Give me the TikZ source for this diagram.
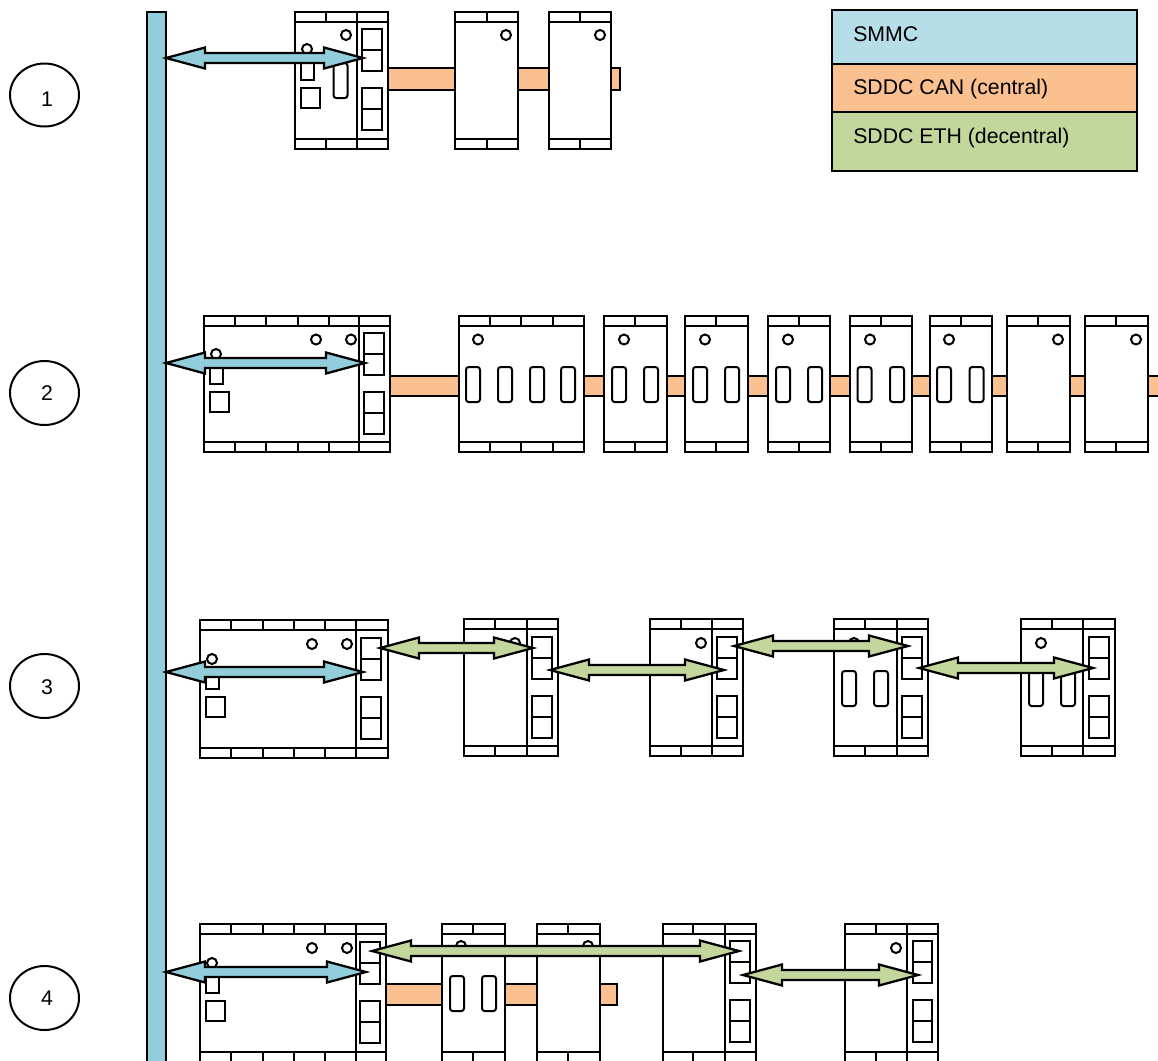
\documentclass[tikz,border=0pt]{standalone}
\usepackage{fontspec}
\setmainfont{Liberation Sans}
\usetikzlibrary{calc}
\definecolor{busblue}{HTML}{92CDDC}
\definecolor{legblue}{HTML}{B7DDE8}
\definecolor{canorange}{HTML}{FAC08F}
\definecolor{ethgreen}{HTML}{C3D69B}
\tikzset{
  part/.style={draw=black,line width=1.5pt,fill=white},
  strip/.style={draw=black,line width=1.5pt,fill=canorange},
  legendbox/.style={draw=black,line width=1.5pt},
  legendtext/.style={anchor=base west,inner sep=0pt,font=\fontsize{15.95}{18}\selectfont},
  rownum/.style={inner sep=0pt,font=\fontsize{15.95}{18}\selectfont},
  flow/.style={draw=black,line width=1.7pt,line join=miter,miter limit=10},
}
% x0 x1 top bottom ticklist
\newcommand{\mymodule}[5]{%
  \draw[part] (#1,#3) rectangle (#2,#4);
  \draw[part] (#1,#3+10) -- (#2,#3+10) (#1,#4-10) -- (#2,#4-10);
  \foreach \t in {#5} {\draw[part] (\t,#3) -- (\t,#3+10) (\t,#4-10) -- (\t,#4);}
}
\newcommand{\mydivider}[3]{\draw[part] (#1,#2+10) -- (#1,#3-10);}
% x y of upper left corner of the two double boxes
\newcommand{\myports}[2]{%
  \draw[part] (#1,#2) rectangle (#1+19.5,#2+42) (#1,#2+21) -- (#1+19.5,#2+21);
  \draw[part] (#1,#2+59) rectangle (#1+19.5,#2+101) (#1,#2+80) -- (#1+19.5,#2+80);
}
\newcommand{\myled}[2]{\draw[part] (#1,#2) circle[radius=5];}
\newcommand{\myslot}[3]{\draw[part,rounded corners=2pt] (#1,#2) rectangle (#1+14,#3);}
% name x1 x2 y colour
\newcommand{\myflow}[5]{%
  \coordinate (#1L) at (#2+2,#4);
  \coordinate (#1R) at (#3+1,#4);
  \draw[flow,fill=#5] (#1L) -- ($(#1L)+(39,-10.5)$) -- ($(#1L)+(39,-5)$) -- ($(#1R)+(-39,-5)$)
    -- ($(#1R)+(-39,-10.5)$) -- (#1R) -- ($(#1R)+(-39,10.5)$) -- ($(#1R)+(-39,5)$)
    -- ($(#1L)+(39,5)$) -- ($(#1L)+(39,10.5)$) -- cycle;
}
\begin{document}
\begin{tikzpicture}[x=0.75pt,y=-0.75pt]
\clip (0,0) rectangle (1158,1061);
\fill[white] (0,0) rectangle (1158,1061);
% bus
\draw[line width=1.5pt,fill=busblue] (147,12) rectangle (166,1070);
% legend
\draw[legendbox,fill=legblue] (832,10) rectangle (1137,64);
\draw[legendbox,fill=canorange] (832,64) rectangle (1137,112);
\draw[legendbox,fill=ethgreen] (832,112) rectangle (1137,171);
\node[legendtext] (legA) at (853,41) {SMMC};
\node[legendtext] (legB) at (853,94) {SDDC CAN (central)};
\node[legendtext] (legC) at (853,143) {SDDC ETH (decentral)};
% row numbers
\draw[line width=1.5pt] (44.5,95) ellipse [x radius=34.5, y radius=31.5];
\draw[line width=1.5pt] (44.5,393) ellipse [x radius=34.5, y radius=32];
\draw[line width=1.5pt] (44.5,686) ellipse [x radius=34.5, y radius=32];
\draw[line width=1.5pt] (44.5,998) ellipse [x radius=34.5, y radius=32];
\node[rownum] (numA) at (47,99) {1};
\node[rownum] (numB) at (47,393) {2};
\node[rownum] (numC) at (47,687) {3};
\node[rownum] (numD) at (47,998) {4};
% ---- row 1
\draw[strip] (380,68) rectangle (620,90);
\mymodule{295}{388}{12}{149}{326,357}
\mydivider{357}{12}{149}
\myports{362}{29}
\myled{346}{35}\myled{307}{49}
\draw[part] (301,58) rectangle (314,80);
\draw[part] (300.5,88) rectangle (320,107.5);
\myslot{333.5}{63}{98}
\mymodule{455}{518}{12}{149}{487}\myled{506}{35}
\mymodule{549}{611}{12}{149}{580}\myled{600}{35}
\myflow{fa}{164}{362}{58}{busblue}
% ---- row 2
\draw[strip] (385,376) rectangle (1170,396);
\mymodule{204}{390}{316}{452}{235,266,298,329,359}
\mydivider{359}{316}{452}
\myports{364}{333}
\myled{316}{339.5}\myled{351}{339.5}\myled{216}{354}
\draw[part] (210,362) rectangle (223,384);
\draw[part] (210,392) rectangle (229,411.5);
\mymodule{459}{584}{316}{452}{490,521,553}\myled{478}{339.5}
\myslot{466}{367}{402}\myslot{498}{367}{402}\myslot{530}{367}{402}\myslot{561}{367}{402}
\mymodule{604}{667}{316}{452}{635}\myled{624}{339.5}
\myslot{612}{367}{402}\myslot{644}{367}{402}
\mymodule{685}{748}{316}{452}{716}\myled{705}{339.5}
\myslot{693}{367}{402}\myslot{725}{367}{402}
\mymodule{768}{830}{316}{452}{799}\myled{788}{339.5}
\myslot{776}{367}{402}\myslot{808}{367}{402}
\mymodule{850}{912}{316}{452}{881}\myled{870}{339.5}
\myslot{857.5}{367}{402}\myslot{890}{367}{402}
\mymodule{929.5}{992}{316}{452}{961}\myled{949}{339.5}
\myslot{937}{367}{402}\myslot{969.5}{367}{402}
\mymodule{1007}{1070}{316}{452}{1038}\myled{1058}{339.5}
\mymodule{1085}{1148}{316}{452}{1116}\myled{1136}{339.5}
\myflow{fb}{164}{364}{363}{busblue}
% ---- row 3
\mymodule{200}{388}{620}{758}{231,263,294,325,356}
\mydivider{356}{620}{758}
\myports{361}{638}
\myled{312}{644}\myled{347}{644}\myled{212}{659}
\draw[part] (206,668) rectangle (219,689);
\draw[part] (206,697) rectangle (225,716.5);
\mymodule{464}{558}{619}{756}{495,527}\mydivider{527}{619}{756}\myports{532}{637}\myled{515}{643}
\mymodule{650}{743}{619}{756}{681,712}\mydivider{712}{619}{756}\myports{717}{637}\myled{701}{643}
\mymodule{834}{928}{619}{756}{865,897}\mydivider{897}{619}{756}\myports{902}{637}\myled{854}{643}
\myslot{842}{671}{706}\myslot{874}{671}{706}
\mymodule{1021}{1115}{619}{756}{1052,1083}\mydivider{1083}{619}{756}\myports{1089}{637}\myled{1041}{643}
\myslot{1029}{671}{706}\myslot{1061}{671}{706}
\myflow{fc}{164}{362}{672}{busblue}
\myflow{fd}{378}{532}{648}{ethgreen}
\myflow{fe}{548}{723}{670}{ethgreen}
\myflow{ff}{732}{907}{646}{ethgreen}
\myflow{fg}{917}{1092}{668}{ethgreen}
% ---- row 4
\draw[strip] (380,984) rectangle (617,1005);
\mymodule{200}{386}{924}{1062}{231,263,294,325,356}
\mydivider{356}{924}{1062}
\myports{360}{942}
\myled{312}{948}\myled{347}{948}\myled{212}{963}
\draw[part] (206,972) rectangle (219,993);
\draw[part] (206,1001) rectangle (225,1020.5);
\mymodule{442}{505}{924}{1062}{473}\myled{461}{946}
\myslot{450}{976}{1011}\myslot{482}{976}{1011}
\mymodule{537}{600}{924}{1062}{568}\myled{588}{946}
\mymodule{663}{756}{924}{1062}{693,725}\mydivider{725}{924}{1062}\myports{730}{941}
\mymodule{845}{938}{924}{1062}{876,907}\mydivider{907}{924}{1062}\myports{912.5}{941}\myled{896}{948}
\myflow{fh}{164}{365}{972}{busblue}
\myflow{fi}{370}{738}{951}{ethgreen}
\myflow{fj}{741}{917}{975}{ethgreen}
\end{tikzpicture}
\end{document}
